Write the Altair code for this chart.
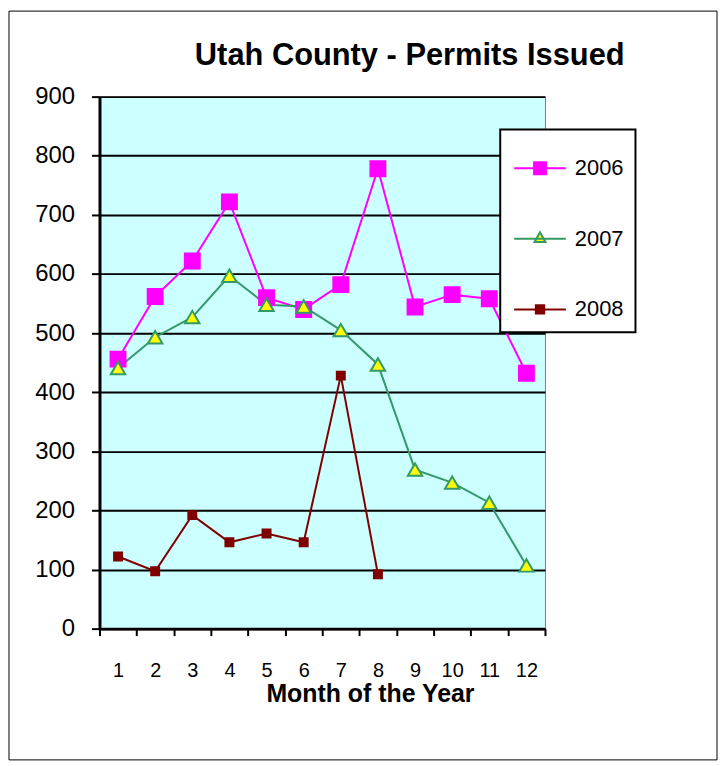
import altair as alt
import pandas as pd

months = list(range(1, 13))
years = ["2006", "2007", "2008"]
v2006 = [456, 562, 622, 722, 560, 540, 582, 778, 544, 565, 558, 432]
v2007 = [441, 493, 527, 597, 548, 545, 505, 447, 269, 247, 213, 107]
v2008 = [122, 97, 192, 146, 161, 146, 428, 92]

line_colors = ["#FF00FF", "#339966", "#800000"]
marker_fills = ["#FF00FF", "#FFFF00", "#800000"]
marker_shapes = ["square", "triangle-up", "square"]
marker_sizes = [225, 210, 64]
legend_shapes = [
    "M-1,0H1M-0.23,-0.23H0.23V0.23H-0.23Z",
    "M-1,0H1M0,-0.25L0.21,0.12H-0.21Z",
    "M-1,0H1M-0.16,-0.16H0.16V0.16H-0.16Z",
]

rows = []
for yr, vals in zip(years, [v2006, v2007, v2008]):
    for m, v in zip(months, vals):
        rows.append({"month": m, "value": v, "year": yr})
df = pd.DataFrame(rows)

FONT = "Liberation Sans"

x_enc = alt.X(
    "month:Q",
    scale=alt.Scale(domain=[0.5, 12.5], nice=False, zero=False),
    axis=alt.Axis(
        values=[i / 2 for i in range(1, 26)],
        labelExpr="datum.value % 1 === 0 ? '' + datum.value : ''",
        tickOpacity={"condition": {"test": "datum.value % 1 === 0", "value": 0}, "value": 1},
        grid=False,
        domainColor="black",
        domainWidth=3,
        tickColor="black",
        tickWidth=2,
        tickSize=7,
        labelFont=FONT,
        labelFontSize=20,
        labelColor="black",
        labelPadding=25,
        labelOverlap=False,
        labelFlush=False,
        title="Month of the Year",
        titleFont=FONT,
        titleFontSize=25,
        titleFontWeight="bold",
        titleColor="black",
        titleX=272,
        titlePadding=1,
    ),
)
y_enc = alt.Y(
    "value:Q",
    scale=alt.Scale(domain=[0, 900], nice=False),
    axis=alt.Axis(
        values=list(range(0, 1000, 100)),
        grid=True,
        gridColor="black",
        gridWidth=2,
        domainColor="black",
        domainWidth=3,
        tickColor="black",
        tickWidth=2,
        tickSize=8,
        labelFont=FONT,
        labelFontSize=24,
        labelColor="black",
        labelPadding=17,
        title=None,
    ),
)

base = alt.Chart(df)

frame = alt.Chart(pd.DataFrame({"a": [0]})).mark_rect(
    fillOpacity=0, stroke="black", strokeWidth=1
).encode(
    x=alt.value(-91), x2=alt.value(621), y=alt.value(-86), y2=alt.value(667)
)

lines = base.mark_line(strokeWidth=2).encode(
    x=x_enc,
    y=y_enc,
    color=alt.Color("year:N", scale=alt.Scale(domain=years, range=line_colors), legend=None),
)

pts = base.mark_point(opacity=1, strokeWidth=2).encode(
    x=x_enc,
    y=y_enc,
    shape=alt.Shape("year:N", scale=alt.Scale(domain=years, range=marker_shapes), legend=None),
    fill=alt.Fill("year:N", scale=alt.Scale(domain=years, range=marker_fills), legend=None),
    stroke=alt.Stroke("year:N", scale=alt.Scale(domain=years, range=line_colors), legend=None),
    size=alt.Size("year:N", scale=alt.Scale(type="ordinal", domain=years, range=marker_sizes), legend=None),
)

leg = base.transform_filter("false").mark_point(opacity=1, strokeWidth=2).encode(
    x=x_enc,
    y=y_enc,
    shape=alt.Shape("year:N", scale=alt.Scale(domain=years, range=legend_shapes), legend=alt.Legend(title=None)),
    fill=alt.Fill("year:N", scale=alt.Scale(domain=years, range=marker_fills), legend=alt.Legend(title=None)),
    stroke=alt.Stroke("year:N", scale=alt.Scale(domain=years, range=line_colors), legend=alt.Legend(title=None)),
)

chart = alt.layer(frame, lines, pts, leg).resolve_scale(
    color="independent", fill="independent", stroke="independent", shape="independent", size="independent"
).properties(
    width=448,
    height=535,
    padding={"left": 92, "top": 87, "right": 175, "bottom": 134},
    autosize=alt.AutoSizeParams(type="none"),
    background="white",
    title=alt.TitleParams(
        "Utah County - Permits Issued",
        font=FONT,
        fontSize=31,
        fontWeight="bold",
        color="black",
        anchor="middle",
        frame="group",
        dx=88,
        offset=-86,
        baseline="alphabetic",
    ),
).configure_view(
    fill="#CCFFFF", stroke="#808080", strokeWidth=1
).configure_legend(
    orient="none",
    legendX=403,
    legendY=33,
    padding=12,
    fillColor="white",
    strokeColor="black",
    strokeWidth=2,
    symbolSize=2704,
    symbolStrokeWidth=2,
    symbolOffset=1,
    labelOffset=8,
    labelFont=FONT,
    labelFontSize=22,
    labelColor="black",
    rowPadding=33,
    cornerRadius=0,
)

chart.save("out.html", embed_options={"renderer": "svg", "actions": False})
